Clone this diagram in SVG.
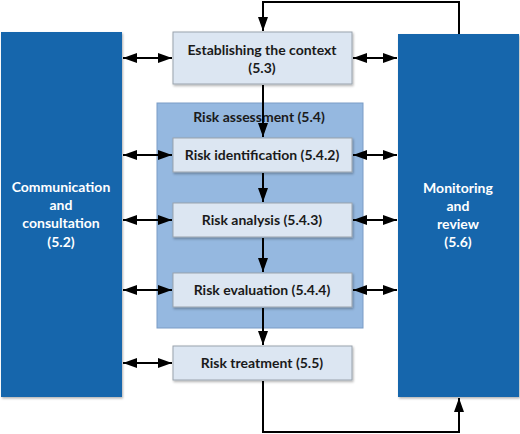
<svg xmlns="http://www.w3.org/2000/svg" width="520" height="434" viewBox="0 0 520 434">
<defs>
<style>
.big{fill:#1966ac;}
.box{fill:#dce6f2;stroke:#9aa3ad;stroke-width:1;}
.cont{fill:#95b8e0;stroke:#7a9cc6;stroke-width:1;}
.t{font-family:Lato,"Liberation Sans",sans-serif;font-weight:bold;font-size:14px;text-anchor:middle;fill:#1a1a1a;}
.w{fill:#ffffff;}
.ln{stroke:#000;stroke-width:2;fill:none;}
</style>
<marker id="ah" viewBox="0 0 14 10" refX="14" refY="5" markerWidth="7" markerHeight="5" orient="auto-start-reverse" markerUnits="strokeWidth">
<path d="M0,0 L14,5 L0,10 Z" fill="#000"/>
</marker>
<filter id="sh" x="-10%" y="-10%" width="130%" height="140%">
<feDropShadow dx="1" dy="1.5" stdDeviation="0.8" flood-color="#000" flood-opacity="0.3"/>
</filter>
</defs>
<g id="comm">
<rect class="big" x="1" y="32" width="121" height="365" filter="url(#sh)"/>
<text class="t w" x="61" y="192">Communication</text>
<text class="t w" x="61" y="210">and</text>
<text class="t w" x="61" y="228">consultation</text>
<text class="t w" x="61" y="247">(5.2)</text>
</g>
<g id="monitor">
<rect class="big" x="398" y="34" width="121" height="363" filter="url(#sh)"/>
<text class="t w" x="458" y="193">Monitoring</text>
<text class="t w" x="458" y="211">and</text>
<text class="t w" x="458" y="229">review</text>
<text class="t w" x="458" y="247">(5.6)</text>
</g>
<g id="assessment">
<rect class="cont" x="157" y="103" width="206" height="225"/>
<text class="t" x="259" y="122">Risk assessment (5.4)</text>
</g>
<g id="context">
<rect class="box" x="173" y="32" width="179" height="52" filter="url(#sh)"/>
<text class="t" x="262" y="55">Establishing the context</text>
<text class="t" x="262" y="73">(5.3)</text>
</g>
<g id="identification">
<rect class="box" x="173" y="138" width="179" height="34" filter="url(#sh)"/>
<text class="t" x="262" y="160">Risk identification (5.4.2)</text>
</g>
<g id="analysis">
<rect class="box" x="173" y="203" width="179" height="34" filter="url(#sh)"/>
<text class="t" x="262" y="225">Risk analysis (5.4.3)</text>
</g>
<g id="evaluation">
<rect class="box" x="173" y="273" width="179" height="34" filter="url(#sh)"/>
<text class="t" x="262" y="295">Risk evaluation (5.4.4)</text>
</g>
<g id="treatment">
<rect class="box" x="173" y="346" width="179" height="34" filter="url(#sh)"/>
<text class="t" x="262" y="368">Risk treatment (5.5)</text>
</g>
<g id="connectors">
<line class="ln" x1="123" y1="58" x2="172" y2="58" marker-start="url(#ah)" marker-end="url(#ah)"/>
<line class="ln" x1="123" y1="155" x2="172" y2="155" marker-start="url(#ah)" marker-end="url(#ah)"/>
<line class="ln" x1="123" y1="220" x2="172" y2="220" marker-start="url(#ah)" marker-end="url(#ah)"/>
<line class="ln" x1="123" y1="290" x2="172" y2="290" marker-start="url(#ah)" marker-end="url(#ah)"/>
<line class="ln" x1="123" y1="363" x2="172" y2="363" marker-start="url(#ah)" marker-end="url(#ah)"/>
<line class="ln" x1="353" y1="58" x2="397" y2="58" marker-start="url(#ah)" marker-end="url(#ah)"/>
<line class="ln" x1="353" y1="155" x2="397" y2="155" marker-start="url(#ah)" marker-end="url(#ah)"/>
<line class="ln" x1="353" y1="220" x2="397" y2="220" marker-start="url(#ah)" marker-end="url(#ah)"/>
<line class="ln" x1="353" y1="290" x2="397" y2="290" marker-start="url(#ah)" marker-end="url(#ah)"/>
<line class="ln" x1="263" y1="85" x2="263" y2="137" marker-end="url(#ah)"/>
<line class="ln" x1="263" y1="173" x2="263" y2="202" marker-end="url(#ah)"/>
<line class="ln" x1="263" y1="238" x2="263" y2="272" marker-end="url(#ah)"/>
<line class="ln" x1="263" y1="308" x2="263" y2="345" marker-end="url(#ah)"/>
<polyline class="ln" points="459,34 459,2 263,2 263,31" marker-end="url(#ah)"/>
<polyline class="ln" points="263,381 263,432 459,432 459,398" marker-end="url(#ah)"/>
</g>
</svg>
